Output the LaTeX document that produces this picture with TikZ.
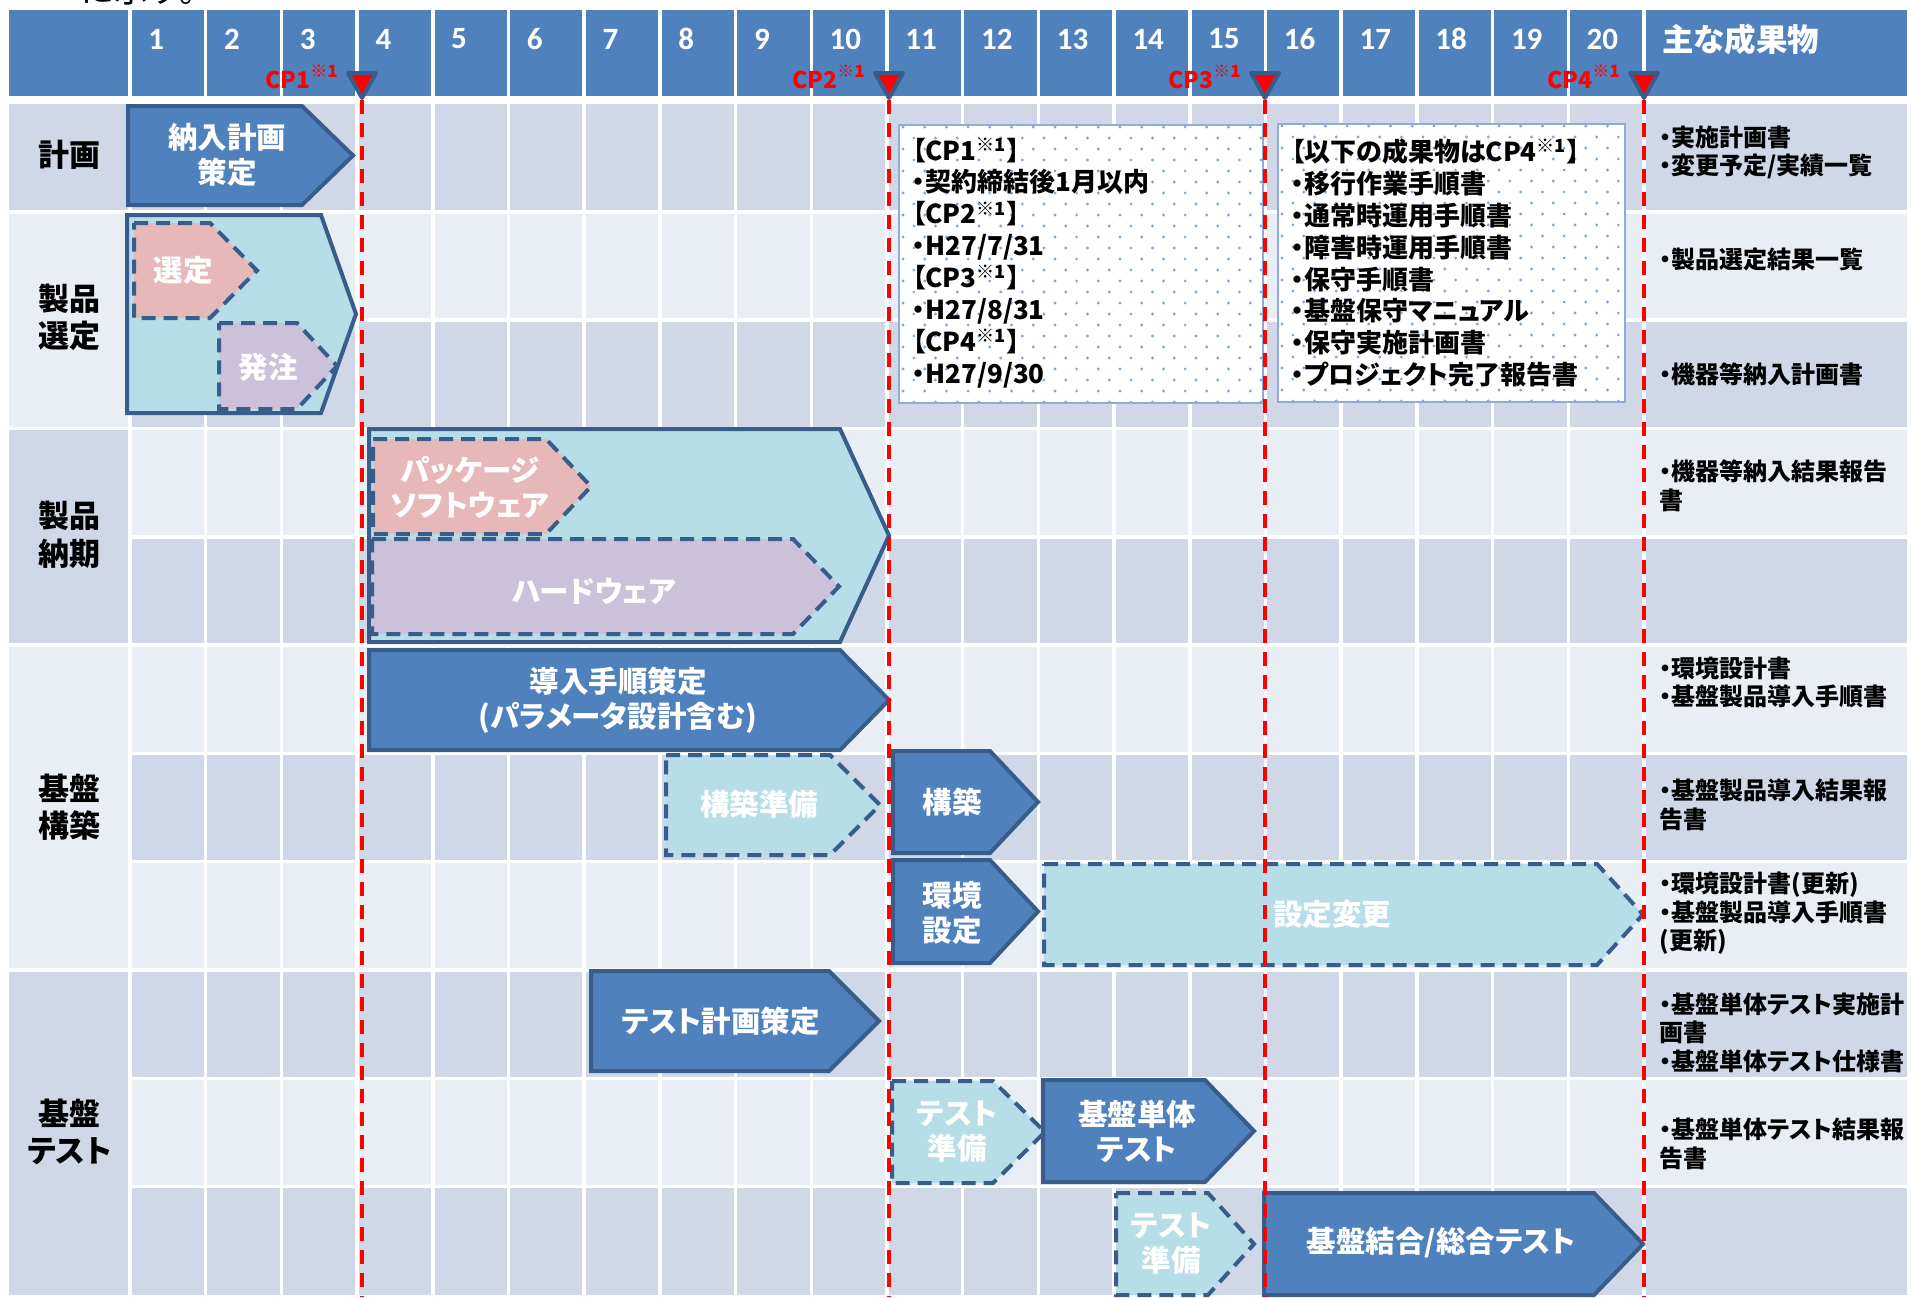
\documentclass[tikz,border=0pt]{standalone}
\usepackage{fontspec}
\setmainfont{Carlito}
\newfontfamily\jp[RawFeature=+palt]{Noto Sans CJK JP}
\newfontfamily\jpplain{Noto Sans CJK JP}
\usepackage{tikz}
\definecolor{hdrblue}{HTML}{4F81BD}
\definecolor{bardark}{HTML}{385D8A}
\definecolor{rowdark}{HTML}{D0D8E8}
\definecolor{rowlight}{HTML}{E9EDF4}
\definecolor{lightcyan}{HTML}{B7DEE8}
\definecolor{rosepink}{HTML}{E6B9B8}
\definecolor{lavender}{HTML}{CCC1DA}
\definecolor{dotblue}{HTML}{7FA7DC}
\definecolor{boxline}{HTML}{8FAADC}
\def\chevron[#1](#2,#3)(#4,#5)(#6){\draw[#1] (#2,#3) -- (#6,#3) -- (#4,{(#3+#5)/2}) -- (#6,#5) -- (#2,#5) -- cycle;}
\def\cpnote{\raisebox{0.45em}{\fontsize{8.5}{8.5}\selectfont ※1}}

\begin{document}
\begin{tikzpicture}[x=0.5pt, y=-0.5pt,
	gridline/.style={white, line width=1.75pt},
	solidbar/.style={fill=hdrblue, draw=bardark, line width=2pt},
	dashbar/.style={draw=bardark, line width=2pt, dash pattern=on 7pt off 4pt},
	bartext/.style={text=white, align=center, inner sep=0pt, font=\jp\bfseries\fontsize{14.75}{17.5}\selectfont},
	rowlabel/.style={align=center, inner sep=0pt, font=\jp\bfseries\fontsize{15.5}{18.75}\selectfont},
	deliv/.style={anchor=west, align=left, inner sep=0pt, font=\jp\bfseries\fontsize{12}{14.25}\selectfont},
	boxtext/.style={anchor=west, align=left, inner sep=0pt, font=\jp\bfseries\fontsize{13}{15.95}\selectfont},
	wknum/.style={text=white, anchor=west, inner sep=0pt, font=\bfseries\fontsize{15.5}{18}\selectfont},
	cpmark/.style={fill=red, draw=bardark, line width=2pt, line join=round},
	cpline/.style={red, line width=2pt, dash pattern=on 7pt off 4.5pt},
	cplabel/.style={text=red, anchor=base east, inner sep=0pt, font=\jp\bfseries\fontsize{11.5}{13}\selectfont}]
		%%%%% START %%%%%
		\useasboundingbox (0,0) rectangle (1911,1297);
		
		\node[anchor=base west, inner sep=0pt, font=\jpplain\fontsize{17}{17}\selectfont] (intro) at (80,2) {に示す。};
		
		% header
		\fill[hdrblue] (9,10) rectangle (1907,96);
		\foreach \c in {0,...,20} \draw[gridline] ({130+\c*75.7},10) -- ({130+\c*75.7},96);
		\foreach \k in {1,...,20} \node[wknum] (wk\k) at ({130+(\k-1)*75.7+18},39) {\k};
		\node[anchor=west, inner sep=0pt, text=white, font=\jp\bfseries\fontsize{15.75}{18}\selectfont] (deliverhead) at (1662,39) {主な成果物};
		
		% rows
		\foreach \r in {0,2,...,10} \fill[rowdark] (130,{103.6+\r*108.3}) rectangle (1907,{103.6+(\r+1)*108.3});
		\foreach \r in {1,3,...,9} \fill[rowlight] (130,{103.6+\r*108.3}) rectangle (1907,{103.6+(\r+1)*108.3});
		\fill[rowdark] (9,103.6) rectangle (130,211.9);
		\fill[rowlight] (9,211.9) rectangle (130,428.5);
		\fill[rowdark] (9,428.5) rectangle (130,645.1);
		\fill[rowlight] (9,645.1) rectangle (130,970);
		\fill[rowdark] (9,970) rectangle (130,1294.9);
		\foreach \c in {0,...,20} \draw[gridline] ({130+\c*75.7},103) -- ({130+\c*75.7},1297);
		\foreach \r in {2,4,6,7,9,10} \draw[gridline] (130,{103.6+\r*108.3}) -- (1907,{103.6+\r*108.3});
		\foreach \r in {1,3,5,8} \draw[gridline] (9,{103.6+\r*108.3}) -- (1907,{103.6+\r*108.3});
		
		\node[rowlabel] (plan) at (69.5,155) {計画};
		\node[rowlabel] (select) at (69.5,317.5) {製品\\選定};
		\node[rowlabel] (deliver) at (69.5,535) {製品\\納期};
		\node[rowlabel] (build) at (69.5,807) {基盤\\構築};
		\node[rowlabel] (test) at (69.5,1132) {基盤\\テスト};
		
		% bars
		\chevron[solidbar](128,106)(353,205)(302);
		\node[bartext] (planbar) at (227,155) {納入計画\\策定};
		
		\chevron[solidbar, fill=lightcyan](127,215)(356,413)(321);
		\chevron[dashbar, fill=rosepink](134,223)(257,318)(210);
		\chevron[dashbar, fill=lavender](219,323)(337,409)(297);
		\node[bartext] (selbar) at (183,270) {選定};
		\node[bartext] (orderbar) at (268,367) {発注};
		
		\chevron[solidbar, fill=lightcyan](369,429)(889,642)(840);
		\chevron[dashbar, fill=rosepink](373,439)(591,534)(546);
		\chevron[dashbar, fill=lavender](372,539)(839,634)(793);
		\node[bartext] (pkgbar) at (470,487) {パッケージ\\ソフトウェア};
		\node[bartext] (hwbar) at (594,591) {ハードウェア};
		
		\chevron[solidbar](369,650)(889,750)(840);
		\node[bartext] (procbar) at (618,700) {導入手順策定\\(パラメータ設計含む)};
		\chevron[dashbar, fill=lightcyan](666,755)(880,855)(830);
		\node[bartext] (prepbar) at (759,804) {構築準備};
		\chevron[solidbar](893,751)(1038,853)(990);
		\node[bartext] (buildbar) at (952,802) {構築};
		\chevron[solidbar](893,860)(1038,963)(990);
		\node[bartext] (envbar) at (952,913) {環境\\設定};
		\chevron[dashbar, fill=lightcyan](1044,864)(1643,965)(1597);
		\node[bartext] (chgbar) at (1332,914) {設定変更};
		
		\chevron[solidbar](591,971)(879,1071)(829);
		\node[bartext] (tplanbar) at (721,1021) {テスト計画策定};
		\chevron[dashbar, fill=lightcyan](892,1081)(1045,1183)(993);
		\node[bartext] (tprepa) at (957,1132) {テスト\\準備};
		\chevron[solidbar](1043,1080)(1254,1182)(1205);
		\node[bartext] (unitbar) at (1137,1131) {基盤単体\\テスト};
		\chevron[dashbar, fill=lightcyan](1116,1193)(1254,1295)(1208);
		\node[bartext] (tprepb) at (1171,1244) {テスト\\準備};
		\chevron[solidbar](1264,1193)(1643,1295)(1594);
		\node[bartext] (itbar) at (1441,1243) {基盤結合/総合テスト};
		
		% note boxes
		\fill[white] (899,125) rectangle (1263,403);
		\fill[white] (1278,124) rectangle (1625,402);
		\begin{scope}
			\clip (899,125) rectangle (1263,403);
			\foreach \i in {0,...,17} \foreach \j in {0,...,25} \fill[dotblue] ({903+\i*21.7+mod(\j,2)*10.85},{127+\j*11}) circle (1.6);
		\end{scope}
		\begin{scope}
			\clip (1278,124) rectangle (1625,402);
			\foreach \i in {0,...,16} \foreach \j in {0,...,25} \fill[dotblue] ({1282+\i*21.7+mod(\j,2)*10.85},{126+\j*11}) circle (1.6);
		\end{scope}
		\draw[boxline, line width=1pt] (899,125) rectangle (1263,403);
		\draw[boxline, line width=1pt] (1278,124) rectangle (1625,402);
		\node[boxtext] (cpdates) at (912,263) {【CP1\textsuperscript{※1}】\\・契約締結後1月以内\\【CP2\textsuperscript{※1}】\\・H27/7/31\\【CP3\textsuperscript{※1}】\\・H27/8/31\\【CP4\textsuperscript{※1}】\\・H27/9/30};
		\node[boxtext] (cpdocs) at (1291,263) {【以下の成果物はCP4\textsuperscript{※1}】\\・移行作業手順書\\・通常時運用手順書\\・障害時運用手順書\\・保守手順書\\・基盤保守マニュアル\\・保守実施計画書\\・プロジェクト完了報告書};
		
		% deliverables
		\node[deliv] (dv1) at (1659,152.4) {・実施計画書\\・変更予定/実績一覧};
		\node[deliv] (dv2) at (1659,259.6) {・製品選定結果一覧};
		\node[deliv] (dv3) at (1659,374) {・機器等納入計画書};
		\node[deliv] (dv4) at (1659,485.7) {・機器等納入結果報告\\書};
		\node[deliv] (dv6) at (1659,682.5) {・環境設計書\\・基盤製品導入手順書};
		\node[deliv] (dv7) at (1659,805) {・基盤製品導入結果報\\告書};
		\node[deliv] (dv8) at (1659,913.5) {・環境設計書(更新)\\・基盤製品導入手順書\\(更新)};
		\node[deliv] (dv9) at (1659,1032.7) {・基盤単体テスト実施計\\画書\\・基盤単体テスト仕様書};
		\node[deliv] (dv10) at (1659,1144) {・基盤単体テスト結果報\\告書};
		
		% checkpoints
		\foreach \cx/\n in {362/1,889/2,1265/3,1644/4} {
			\draw[cpline] (\cx,100) -- (\cx,1297);
			\draw[cpmark] ({\cx-14},73) -- ({\cx+14},73) -- (\cx,98) -- cycle;
			\node[cplabel] (cp\n) at ({\cx-24},88) {CP\n\cpnote};
		}
		
		%%%%% END %%%%%
\end{tikzpicture}
\end{document}
